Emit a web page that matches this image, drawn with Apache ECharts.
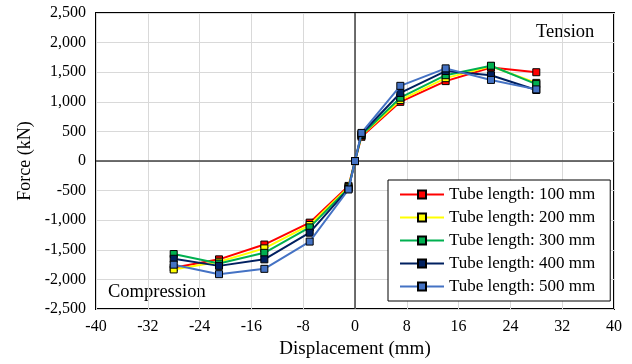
<!DOCTYPE html>
<html>
<head>
<meta charset="utf-8">
<script src="https://cdn.jsdelivr.net/npm/echarts@6/dist/echarts.min.js"></script>
<style>
  html, body { margin: 0; padding: 0; background: #fff; }
  #chart-container { width: 632px; height: 364px; }
</style>
</head>
<body>
<div id="chart-container"></div>
<script>
// displacement (mm) at each load step
const displacement = [-28, -21, -14, -7, -1, 0, 1, 7, 14, 21, 28];

// force (kN) per tube length
const force100 = [-1800, -1660, -1410, -1040, -420, 0, 410, 1000, 1350, 1580, 1500];
const force200 = [-1830, -1700, -1475, -1080, -440, 0, 430, 1030, 1400, 1600, 1320];
const force300 = [-1570, -1730, -1550, -1120, -460, 0, 440, 1070, 1450, 1610, 1300];
const force400 = [-1650, -1770, -1660, -1210, -470, 0, 460, 1150, 1520, 1450, 1200];
const force500 = [-1750, -1910, -1820, -1360, -480, 0, 475, 1270, 1565, 1370, 1210];

const seriesNames = ["Tube length: 100 mm", "Tube length: 200 mm", "Tube length: 300 mm", "Tube length: 400 mm", "Tube length: 500 mm"];
const seriesValues = [force100, force200, force300, force400, force500];
const seriesColors = ["#ff0000", "#ffff00", "#00b050", "#002060", "#4472c4"];

const FONT = "Liberation Serif";

const chart = echarts.init(document.getElementById("chart-container"));

const series = seriesNames.map((name, i) => ({
    name: name,
    type: "line",
    data: displacement.map((x, j) => [x, seriesValues[i][j]]),
    symbol: "rect",
    symbolSize: 7,
    z: 3 + i,
    lineStyle: { color: seriesColors[i], width: 2 },
    itemStyle: { color: seriesColors[i], borderColor: "#000", borderWidth: 1 }
}));

// zero reference lines
series[0].markLine = {
    silent: true,
    symbol: "none",
    label: { show: false },
    lineStyle: { color: "#404040", width: 1.5, type: "solid" },
    data: [{ xAxis: 0 }, { yAxis: 0 }]
};

const options = {
    animation: false,
    grid: {
        show: true,
        left: 96,
        right: 18,
        top: 13,
        bottom: 52,
        borderColor: "#000",
        borderWidth: 2,
        backgroundColor: "transparent"
    },
    xAxis: {
        type: "value",
        min: -40,
        max: 40,
        interval: 8,
        name: "Displacement (mm)",
        nameLocation: "middle",
        nameGap: 30,
        nameTextStyle: { fontFamily: FONT, fontSize: 19, color: "#000" },
        axisLine: { show: false },
        axisTick: { show: false },
        axisLabel: { fontFamily: FONT, fontSize: 16, color: "#000", margin: 10 },
        splitLine: { show: true, lineStyle: { color: "#d9d9d9", width: 1 } }
    },
    yAxis: {
        type: "value",
        min: -2500,
        max: 2500,
        interval: 500,
        name: "Force (kN)",
        nameLocation: "middle",
        nameGap: 60,
        nameTextStyle: { fontFamily: FONT, fontSize: 18, color: "#000" },
        axisLine: { show: false },
        axisTick: { show: false },
        axisLabel: {
            fontFamily: FONT,
            fontSize: 16,
            color: "#000",
            margin: 10,
            formatter: (v) => v.toLocaleString("en-US")
        },
        splitLine: { show: true, lineStyle: { color: "#d9d9d9", width: 1 } }
    },
    legend: {
        orient: "vertical",
        left: 388,
        top: 180,
        padding: [6, 15, 6, 11],
        itemWidth: 44,
        itemHeight: 10,
        itemGap: 6,
        borderColor: "#000",
        borderWidth: 1,
        backgroundColor: "#fff",
        textStyle: { fontFamily: FONT, fontSize: 17, color: "#000" },
        data: seriesNames
    },
    graphic: [
        {
            type: "text",
            left: 536,
            top: 23,
            style: { text: "Tension", font: "18.5px " + FONT, fill: "#000" }
        },
        {
            type: "text",
            left: 108,
            top: 283,
            style: { text: "Compression", font: "18.5px " + FONT, fill: "#000" }
        }
    ],
    series: series
};

chart.setOption(options);
</script>
</body>
</html>
